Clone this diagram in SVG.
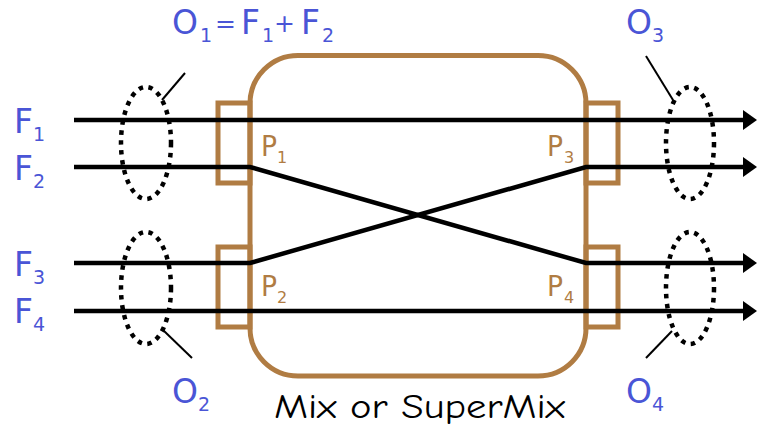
<svg xmlns="http://www.w3.org/2000/svg" width="757" height="427" viewBox="0 0 757 427">
<defs>
<marker id="arr" viewBox="0 0 14 20" refX="0" refY="10" markerWidth="14" markerHeight="20" markerUnits="userSpaceOnUse" orient="auto">
<path d="M0,0 L14,10 L0,20 Z" fill="#000"/>
</marker>
<style>
.box{fill:none;stroke:#b07c43;stroke-width:5}
.flow{fill:none;stroke:#000;stroke-width:4.5}
.oval{fill:none;stroke:#000;stroke-width:4.5;stroke-dasharray:4.5 5.5}
.ptr{stroke:#000;stroke-width:2}
.lb{font-family:"DejaVu Sans","Noto Sans",sans-serif;fill:#4a55d6}
.pl{font-family:"DejaVu Sans","Noto Sans",sans-serif;fill:#b07c43}
.big{font-size:33px}
.op{font-size:25px}
.sub{font-size:19px}
.pbig{font-size:28px}
.psub{font-size:16px}
</style>
</defs>
<g id="mixer">
<rect class="box" x="250" y="55.5" width="336" height="320.5" rx="48" ry="48" fill="#fff"/>
<text x="274" y="418" font-family="'Comic Neue','DejaVu Sans',sans-serif" font-size="35" textLength="291" lengthAdjust="spacingAndGlyphs" fill="#000">Mix or SuperMix</text>
</g>
<g id="port-P1">
<rect class="box" x="218" y="103" width="32" height="80" fill="none"/>
<text class="pl pbig" x="261" y="156" textLength="16" lengthAdjust="spacingAndGlyphs">P</text>
<text class="pl psub" x="277" y="163">1</text>
</g>
<g id="port-P2">
<rect class="box" x="218" y="247" width="32" height="80" fill="none"/>
<text class="pl pbig" x="261" y="296" textLength="16" lengthAdjust="spacingAndGlyphs">P</text>
<text class="pl psub" x="277" y="303">2</text>
</g>
<g id="port-P3">
<rect class="box" x="586" y="103" width="32" height="80" fill="none"/>
<text class="pl pbig" x="547" y="156" textLength="16" lengthAdjust="spacingAndGlyphs">P</text>
<text class="pl psub" x="564" y="163">3</text>
</g>
<g id="port-P4">
<rect class="box" x="586" y="247" width="32" height="80" fill="none"/>
<text class="pl pbig" x="547" y="296" textLength="16" lengthAdjust="spacingAndGlyphs">P</text>
<text class="pl psub" x="564" y="303">4</text>
</g>
<g id="connectors">
<path class="flow" d="M74,120 H743" marker-end="url(#arr)"/>
<path class="flow" d="M74,167 H250 L586,263 H743" marker-end="url(#arr)"/>
<path class="flow" d="M74,263 H250 L586,167 H743" marker-end="url(#arr)"/>
<path class="flow" d="M74,311 H743" marker-end="url(#arr)"/>
</g>
<g id="O1">
<ellipse class="oval" cx="146" cy="143" rx="25" ry="56"/>
<line class="ptr" x1="185" y1="73" x2="162" y2="100"/>
<text class="lb big" x="172" y="34">O</text>
<text class="lb sub" x="200" y="42">1</text>
<text class="lb op" x="215" y="32">=</text>
<text class="lb big" x="241" y="34">F</text>
<text class="lb sub" x="262" y="42">1</text>
<text class="lb op" x="274" y="32">+</text>
<text class="lb big" x="301" y="34">F</text>
<text class="lb sub" x="322" y="42">2</text>
</g>
<g id="O2">
<ellipse class="oval" cx="146" cy="288" rx="25" ry="56"/>
<line class="ptr" x1="163" y1="330" x2="192" y2="358"/>
<text class="lb big" x="172" y="403">O<tspan class="sub" dy="8">2</tspan></text>
</g>
<g id="O3">
<ellipse class="oval" cx="690" cy="143" rx="24" ry="56"/>
<line class="ptr" x1="646" y1="56" x2="673" y2="100"/>
<text class="lb big" x="626" y="34">O<tspan class="sub" dy="8">3</tspan></text>
</g>
<g id="O4">
<ellipse class="oval" cx="690" cy="288" rx="24" ry="56"/>
<line class="ptr" x1="672" y1="331" x2="646" y2="358"/>
<text class="lb big" x="626" y="403">O<tspan class="sub" dy="8">4</tspan></text>
</g>
<g id="flows">
<text class="lb big" x="14" y="133">F<tspan class="sub" dy="8">1</tspan></text>
<text class="lb big" x="14" y="180">F<tspan class="sub" dy="8">2</tspan></text>
<text class="lb big" x="14" y="276">F<tspan class="sub" dy="8">3</tspan></text>
<text class="lb big" x="14" y="323">F<tspan class="sub" dy="8">4</tspan></text>
</g>
</svg>
